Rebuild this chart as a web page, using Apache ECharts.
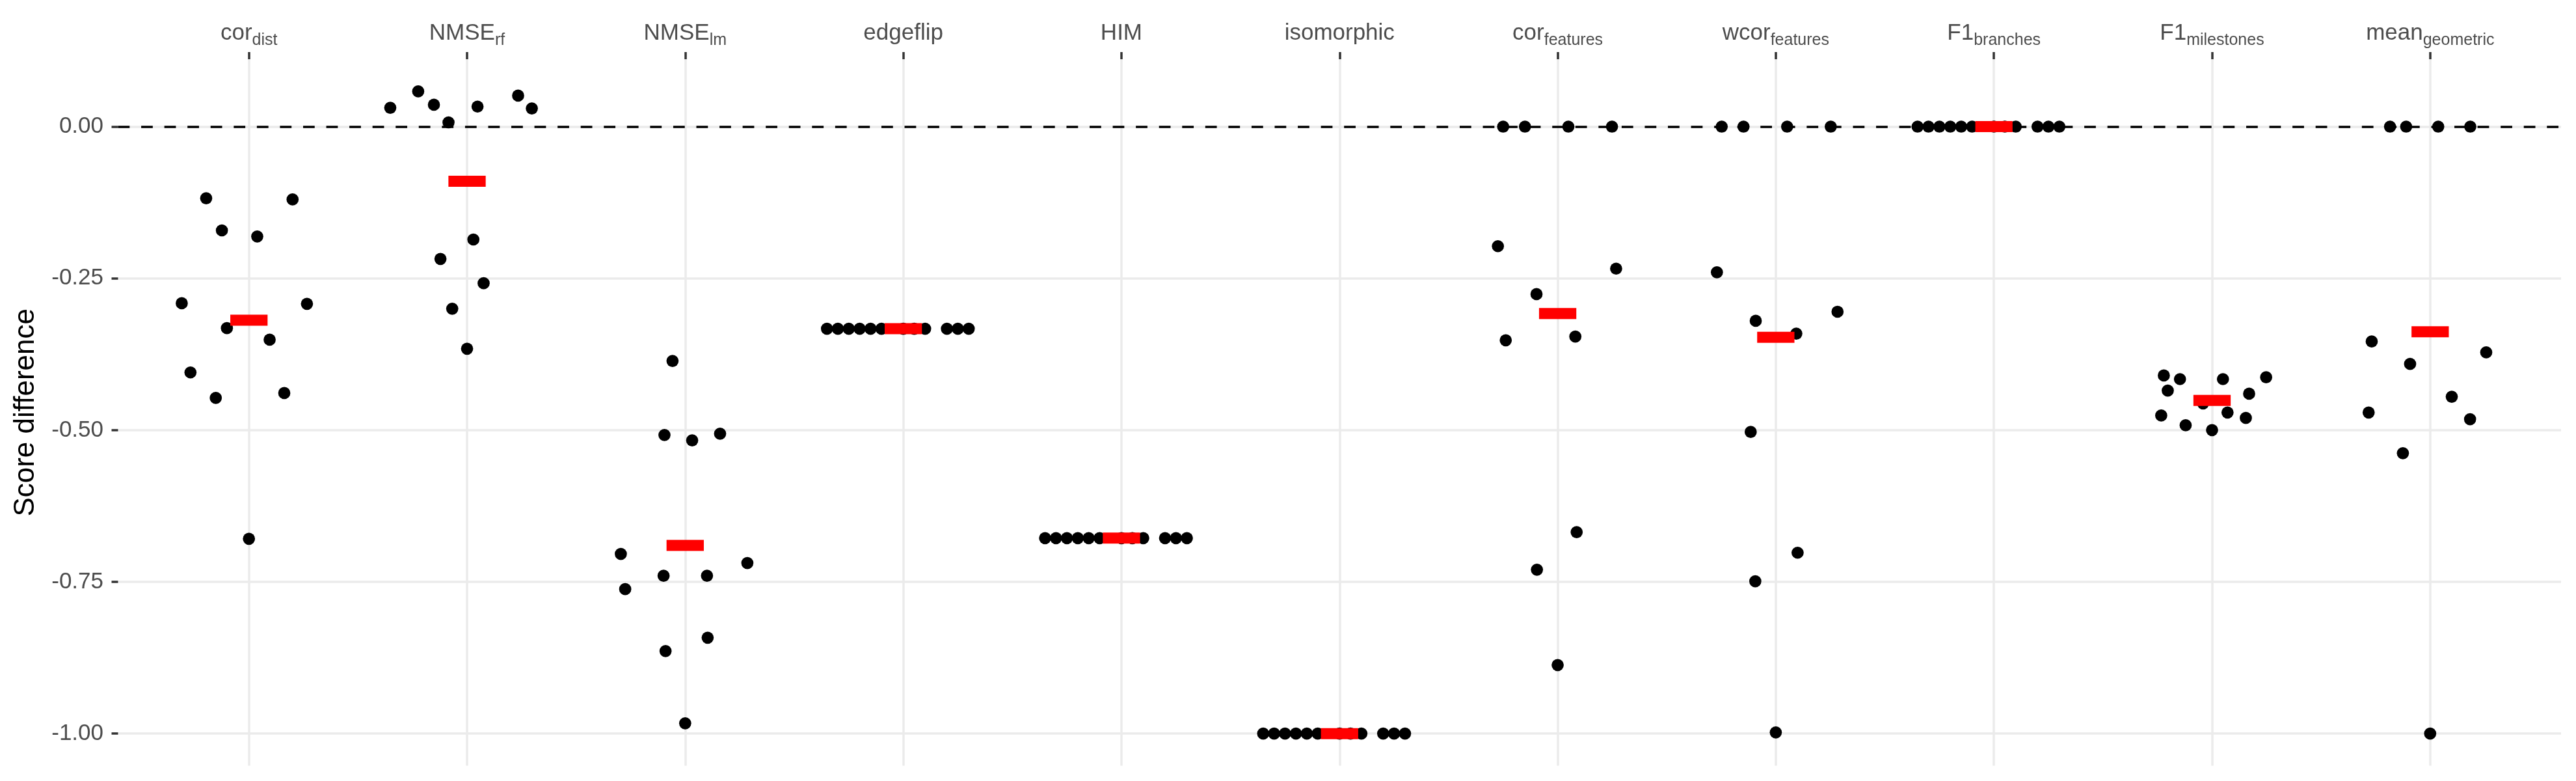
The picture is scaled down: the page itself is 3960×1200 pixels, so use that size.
<!DOCTYPE html>
<html>
<head>
<meta charset="utf-8">
<script src="https://cdn.jsdelivr.net/npm/echarts@6/dist/echarts.min.js"></script>
<style>
html,body{margin:0;padding:0;background:#ffffff;}
#chart{width:3960px;height:1200px;}
</style>
</head>
<body>
<div id="chart"></div>
<script>
// ---- categories and tick labels ----
const categories = ['cor_dist','NMSE_rf','NMSE_lm','edgeflip','HIM','isomorphic','cor_features','wcor_features','F1_branches','F1_milestones','mean_geometric'];
const labelMain = ['cor','NMSE','NMSE','edgeflip','HIM','isomorphic','cor','wcor','F1','F1','mean'];
const labelSub  = ['dist','rf','lm','','','','features','features','branches','milestones','geometric'];
const yTicks = [-1, -0.75, -0.5, -0.25, 0];

// ---- score differences per metric ----
const corDist      = [-0.118,-0.120,-0.171,-0.181,-0.291,-0.292,-0.332,-0.351,-0.405,-0.439,-0.447,-0.679];
const nmseRf       = [0.031,0.058,0.036,0.007,0.033,0.051,0.030,-0.186,-0.218,-0.258,-0.300,-0.366];
const nmseLm       = [-0.386,-0.508,-0.517,-0.506,-0.704,-0.719,-0.740,-0.740,-0.762,-0.842,-0.864,-0.983];
const edgeflip     = [-0.333,-0.333,-0.333,-0.333,-0.333,-0.333,-0.333,-0.333,-0.333,-0.333,-0.333,-0.333];
const him          = [-0.678,-0.678,-0.678,-0.678,-0.678,-0.678,-0.678,-0.678,-0.678,-0.678,-0.678,-0.678];
const isomorphic   = [-1,-1,-1,-1,-1,-1,-1,-1,-1,-1,-1,-1];
const corFeatures  = [0,0,0,0,-0.197,-0.234,-0.276,-0.352,-0.346,-0.668,-0.730,-0.887];
const wcorFeatures = [0,0,0,0,-0.240,-0.305,-0.320,-0.341,-0.503,-0.702,-0.749,-0.998];
const f1Branches   = [0,0,0,0,0,0,0,0,0,0,0,0];
const f1Milestones = [-0.410,-0.416,-0.435,-0.416,-0.413,-0.440,-0.456,-0.476,-0.471,-0.480,-0.492,-0.500];
const meanGeom     = [0,0,0,0,-0.354,-0.372,-0.391,-0.445,-0.471,-0.482,-0.538,-1.0];

// ---- horizontal jitter of each point, in category units ----
const jitCorDist      = [-0.196,0.200,-0.124,0.038,-0.308,0.266,-0.101,0.095,-0.268,0.162,-0.152,0];
const jitNmseRf       = [-0.352,-0.224,-0.152,-0.085,0.048,0.234,0.297,0.029,-0.122,0.076,-0.068,0];
const jitNmseLm       = [-0.058,-0.095,0.032,0.160,-0.295,0.285,-0.099,0.100,-0.275,0.103,-0.090,0];
const jitEdgeflip     = [-0.35,-0.30,-0.25,-0.20,-0.15,-0.10,0,0.05,0.10,0.20,0.25,0.30];
const jitHim          = [-0.35,-0.30,-0.25,-0.20,-0.15,-0.10,0,0.05,0.10,0.20,0.25,0.30];
const jitIsomorphic   = [-0.35,-0.30,-0.25,-0.20,-0.15,-0.10,0,0.05,0.10,0.20,0.25,0.30];
const jitCorFeatures  = [-0.250,-0.150,0.049,0.249,-0.274,0.268,-0.097,-0.238,0.081,0.087,-0.095,0];
const jitWcorFeatures = [-0.248,-0.148,0.052,0.252,-0.270,0.283,-0.092,0.094,-0.115,0.100,-0.094,0];
const jitF1Branches   = [-0.35,-0.30,-0.25,-0.20,-0.15,-0.10,0,0.05,0.10,0.20,0.25,0.30];
const jitF1Milestones = [-0.221,-0.147,-0.203,0.050,0.248,0.170,-0.041,-0.233,0.071,0.155,-0.121,0];
const jitMeanGeom     = [-0.184,-0.110,0.037,0.184,-0.268,0.257,-0.092,0.099,-0.282,0.183,-0.125,0];

// ---- mean per metric (red bars) ----
const means = [-0.319,-0.090,-0.690,-0.333,-0.678,-1.0,-0.308,-0.347,0,-0.451,-0.338];

const valueSets  = [corDist,nmseRf,nmseLm,edgeflip,him,isomorphic,corFeatures,wcorFeatures,f1Branches,f1Milestones,meanGeom];
const jitterSets = [jitCorDist,jitNmseRf,jitNmseLm,jitEdgeflip,jitHim,jitIsomorphic,jitCorFeatures,jitWcorFeatures,jitF1Branches,jitF1Milestones,jitMeanGeom];

const pointData = [];
valueSets.forEach((vals, i) => {
  vals.forEach((v, j) => pointData.push([i + jitterSets[i][j], v]));
});
const meanData = means.map((m, i) => [i, m]);
const catIdx = categories.map((c, i) => i);

const FONT = "'Liberation Sans', Arial, Helvetica, sans-serif";
const chart = echarts.init(document.getElementById('chart'), null, {renderer: 'canvas'});

chart.setOption({
  animation: false,
  backgroundColor: '#ffffff',
  grid: {left: 181.5, right: 23, top: 91, bottom: 23.4, containLabel: false},
  xAxis: {
    type: 'value',
    position: 'top',
    min: -0.6,
    max: 10.6,
    axisLine: {show: false, onZero: false},
    axisTick: {show: true, length: 11, customValues: catIdx, lineStyle: {color: '#333333', width: 3.5}},
    axisLabel: {
      customValues: catIdx,
      margin: 16,
      color: '#4D4D4D',
      fontSize: 35,
      fontFamily: FONT,
      formatter: function (v) {
        const i = Math.round(v);
        return labelSub[i] ? '{m|' + labelMain[i] + '}{s|' + labelSub[i] + '}' : '{m|' + labelMain[i] + '}';
      },
      rich: {
        m: {fontSize: 35, lineHeight: 47, color: '#4D4D4D', fontFamily: FONT},
        s: {fontSize: 25, lineHeight: 25, padding: [22, 0, 0, 0], color: '#4D4D4D', fontFamily: FONT}
      }
    },
    splitLine: {show: true, lineStyle: {color: '#EBEBEB', width: 3.5}}
  },
  yAxis: {
    type: 'value',
    min: -1.053,
    max: 0.111,
    axisLine: {show: false, onZero: false},
    axisTick: {show: true, length: 10, customValues: yTicks, lineStyle: {color: '#333333', width: 3.5}},
    axisLabel: {
      customValues: yTicks,
      margin: 22.5,
      color: '#4D4D4D',
      fontSize: 35,
      fontFamily: FONT,
      formatter: function (v) { return v.toFixed(2); }
    },
    splitLine: {show: true, lineStyle: {color: '#EBEBEB', width: 3.5}},
    name: 'Score difference',
    nameLocation: 'middle',
    nameGap: 120,
    nameTextStyle: {fontSize: 44, color: '#000000', fontFamily: FONT}
  },
  series: [
    {
      type: 'scatter',
      name: 'points',
      data: pointData,
      symbol: 'circle',
      symbolSize: 18.7,
      itemStyle: {color: '#000000', opacity: 1},
      emphasis: {disabled: true},
      z: 2,
      markLine: {
        z: 1,
        silent: true,
        symbol: ['none', 'none'],
        label: {show: false},
        lineStyle: {color: '#000000', width: 3.5, type: [17.78, 17.78], opacity: 1},
        emphasis: {disabled: true},
        data: [{yAxis: 0}]
      }
    },
    {
      type: 'scatter',
      name: 'mean',
      data: meanData,
      symbol: 'rect',
      symbolSize: [57.3, 17],
      itemStyle: {color: '#FF0000', opacity: 1},
      emphasis: {disabled: true},
      z: 3
    }
  ]
});
</script>
</body>
</html>
